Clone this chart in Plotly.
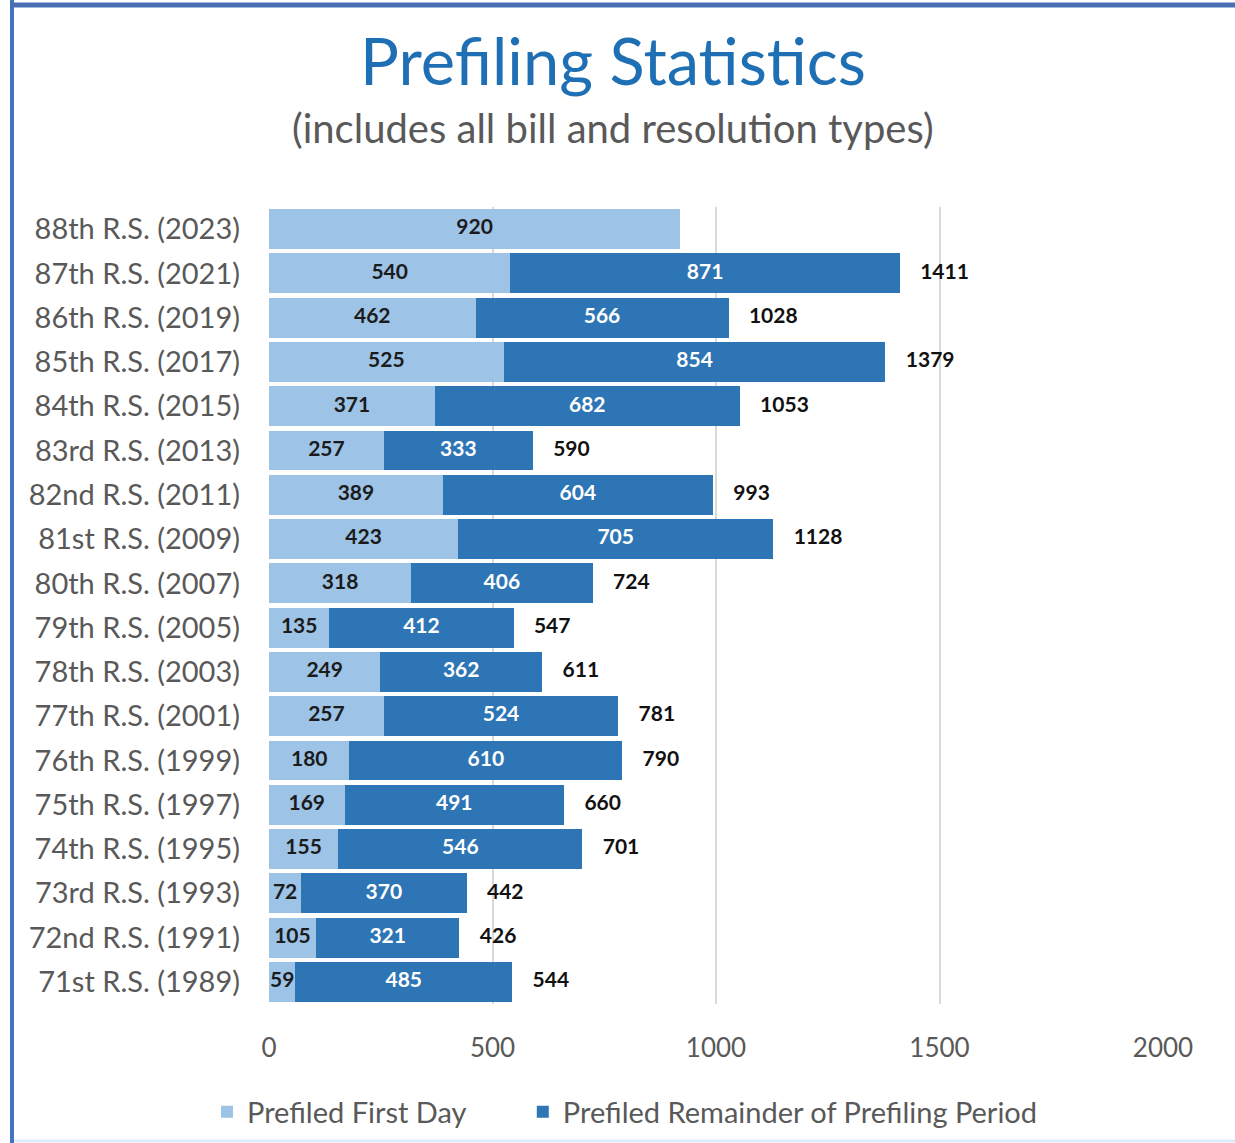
import plotly.graph_objects as go

sessions = ["88th R.S. (2023)", "87th R.S. (2021)", "86th R.S. (2019)", "85th R.S. (2017)",
            "84th R.S. (2015)", "83rd R.S. (2013)", "82nd R.S. (2011)", "81st R.S. (2009)",
            "80th R.S. (2007)", "79th R.S. (2005)", "78th R.S. (2003)", "77th R.S. (2001)",
            "76th R.S. (1999)", "75th R.S. (1997)", "74th R.S. (1995)", "73rd R.S. (1993)",
            "72nd R.S. (1991)", "71st R.S. (1989)"]
first_day = [920, 540, 462, 525, 371, 257, 389, 423, 318, 135, 249, 257, 180, 169, 155, 72, 105, 59]
remainder = [None, 871, 566, 854, 682, 333, 604, 705, 406, 412, 362, 524, 610, 491, 546, 370, 321, 485]
totals = [None, 1411, 1028, 1379, 1053, 590, 993, 1128, 724, 547, 611, 781, 790, 660, 701, 442, 426, 544]
x_ticks = [0, 500, 1000, 1500, 2000]

LIGHT = "#9dc3e6"
DARK = "#2e75b6"
FONT = "Lato"

W, H = 1235, 1143
L, R, T, B = 269, 1163, 207, 1004

def px(x):
    return (x - L) / (R - L)

def py(y):
    return (B - y) / (B - T)

fig = go.Figure()
fig.add_trace(go.Bar(y=sessions, x=first_day, orientation="h",
                     name="Prefiled First Day" + "\u00a0" * 7,
                     marker=dict(color=LIGHT, line=dict(width=0)), hoverinfo="x+y"))
fig.add_trace(go.Bar(y=sessions, x=remainder, orientation="h",
                     name="Prefiled Remainder of Prefiling Period",
                     marker=dict(color=DARK, line=dict(width=0)), hoverinfo="x+y"))

# labels
mid1 = [v / 2 for v in first_day]
fig.add_trace(go.Scatter(y=sessions, x=mid1, mode="text", text=[str(v) for v in first_day],
                         textposition="middle center", showlegend=False, hoverinfo="skip",
                         textfont=dict(family=FONT, size=21, color="#1b1b1b", weight="bold")))
mid2 = [f + r / 2 if r is not None else None for f, r in zip(first_day, remainder)]
fig.add_trace(go.Scatter(y=sessions, x=mid2, mode="text",
                         text=[str(r) if r is not None else "" for r in remainder],
                         textposition="middle center", showlegend=False, hoverinfo="skip",
                         textfont=dict(family=FONT, size=21, color="#ffffff", weight="bold")))
fig.add_trace(go.Scatter(y=sessions, x=totals, mode="text",
                         text=["\u00a0\u00a0\u00a0\u00a0" + str(t) if t is not None else "" for t in totals],
                         textposition="middle right", showlegend=False, hoverinfo="skip",
                         textfont=dict(family=FONT, size=21, color="#111111", weight="bold")))

n = len(sessions)
fig.update_layout(
    width=W, height=H,
    margin=dict(l=L, r=W - R, t=T, b=H - B, pad=0, autoexpand=False),
    barmode="stack", bargap=0.1,
    plot_bgcolor="white", paper_bgcolor="white",
    font=dict(family=FONT, color="#595959"),
    xaxis=dict(range=[0, 2000], tickvals=x_ticks, ticktext=[str(t) for t in x_ticks],
               showgrid=True, gridcolor="#d9d9d9", gridwidth=1.5, zeroline=False,
               showline=False, tickfont=dict(family=FONT, size=26, color="#595959"),
               ticks="", ticklabelstandoff=26, automargin=False),
    yaxis=dict(range=[n - 0.5, -0.5], autorange=False, showgrid=False, showline=False,
               ticks="", automargin=False,
               tickfont=dict(family=FONT, size=29, color="#595959"), ticklabelstandoff=28),
    legend=dict(orientation="h", x=px(625), xanchor="center", y=py(1112), yanchor="middle",
                font=dict(family=FONT, size=29, color="#595959"), traceorder="normal",
                itemwidth=30),
    annotations=[
        dict(text="Prefiling Statistics", x=px(613), y=py(60), xref="paper", yref="paper",
             showarrow=False, xanchor="center", yanchor="middle",
             font=dict(family=FONT, size=65, color="#1f6fb4")),
        dict(text="(includes all bill and resolution types)", x=px(613), y=py(128),
             xref="paper", yref="paper", showarrow=False, xanchor="center", yanchor="middle",
             font=dict(family=FONT, size=40, color="#595959")),
    ],
    shapes=[
        dict(type="line", xref="paper", yref="paper", x0=px(12), x1=px(12), y0=py(0), y1=py(H),
             line=dict(color="#4472c4", width=4)),
        dict(type="line", xref="paper", yref="paper", x0=px(10), x1=px(W), y0=py(5), y1=py(5),
             line=dict(color="#4a6eb4", width=5)),
        dict(type="line", xref="paper", yref="paper", x0=px(14), x1=px(W), y0=py(1141), y1=py(1141),
             line=dict(color="#deebf7", width=3)),
    ],
)

fig.write_html("out.html")
